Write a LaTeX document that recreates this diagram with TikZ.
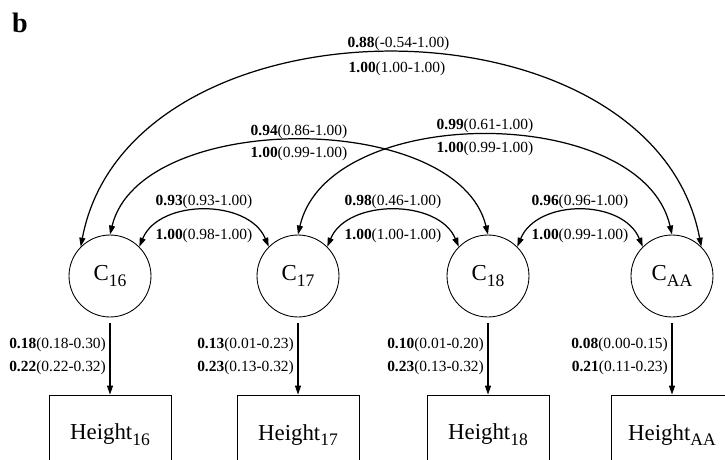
\documentclass[tikz,border=0pt]{standalone}
\usepackage{fontspec}
\setmainfont{Liberation Serif}
\usetikzlibrary{arrows.meta}

\newcommand{\lowsub}[1]{\raisebox{-0.55ex}{\fontsize{10}{10}\selectfont #1}}

\tikzset{
  latent/.style={circle, draw, line width=0.5pt, minimum size=1.64cm, inner sep=0pt,
    font=\fontsize{13}{14}\selectfont},
  observed/.style={rectangle, draw, line width=0.5pt, minimum width=2.44cm,
    minimum height=1.6cm, inner sep=0pt, font=\fontsize{13}{14}\selectfont},
  cov/.style={{Triangle[length=1.8mm,width=1.2mm]}-{Triangle[length=1.8mm,width=1.2mm]},
    line width=0.7pt},
  load/.style={-{Triangle[length=1.8mm,width=1.2mm]}, line width=0.7pt, shorten <=1.2mm},
  est/.style={font=\fontsize{8.8}{13}\selectfont, inner sep=1pt}
}

\begin{document}
\begin{tikzpicture}[x=0.02cm, y=-0.02cm]
\path[use as bounding box, clip] (0,0) rectangle (725,460);

%\draw[gray,very thin, step=50, opacity=0.5] (0,0) grid (725,460);

\node[font=\bfseries\fontsize{16}{16}\selectfont] (panel) at (20,23) {b};

% latent factors
\node[latent] (c16) at (110,276) {C\lowsub{16}};
\node[latent] (c17) at (298,276) {C\lowsub{17}};
\node[latent] (c18) at (488,276) {C\lowsub{18}};
\node[latent] (caa) at (672,276) {C\lowsub{AA}};

% observed heights
\node[observed] (h16) at (110,435) {Height\lowsub{16}};
\node[observed] (h17) at (298,435) {Height\lowsub{17}};
\node[observed] (h18) at (488,435) {Height\lowsub{18}};
\node[observed] (haa) at (672,435) {Height\lowsub{AA}};

% loadings
\draw[load] (c16) -- (h16) node[midway, left=1pt, est, align=right]
  {\textbf{0.18}(0.18-0.30)\\\textbf{0.22}(0.22-0.32)};
\draw[load] (c17) -- (h17) node[midway, left=1pt, est, align=right]
  {\textbf{0.13}(0.01-0.23)\\\textbf{0.23}(0.13-0.32)};
\draw[load] (c18) -- (h18) node[midway, left=1pt, est, align=right]
  {\textbf{0.10}(0.01-0.20)\\\textbf{0.23}(0.13-0.32)};
\draw[load] (caa) -- (haa) node[midway, left=1pt, est, align=right]
  {\textbf{0.08}(0.00-0.15)\\\textbf{0.21}(0.11-0.23)};

% correlations, neighbours
\draw[cov] (c16.45) .. controls +(20,-48) and +(-20,-48) .. (c17.135)
  node[pos=0.5, above, est] {\textbf{0.93}(0.93-1.00)}
  node[pos=0.5, below=0.32cm, est] {\textbf{1.00}(0.98-1.00)};
\draw[cov] (c17.45) .. controls +(20,-48) and +(-20,-48) .. (c18.135)
  node[pos=0.5, above, est] {\textbf{0.98}(0.46-1.00)}
  node[pos=0.5, below=0.32cm, est] {\textbf{1.00}(1.00-1.00)};
\draw[cov] (c18.45) .. controls +(20,-48) and +(-20,-48) .. (caa.135)
  node[pos=0.5, above, est] {\textbf{0.96}(0.96-1.00)}
  node[pos=0.5, below=0.32cm, est] {\textbf{1.00}(0.99-1.00)};

% correlations, two apart
\draw[cov] (c16.north) .. controls +(30,-125) and +(-30,-125) .. (c18.north)
  node[pos=0.5, above, est] {\textbf{0.94}(0.86-1.00)}
  node[pos=0.5, below=2pt, est] {\textbf{1.00}(0.99-1.00)};
\draw[cov] (c17.north) .. controls +(30,-132) and +(-30,-132) .. (caa.north)
  node[pos=0.5, above, est] {\textbf{0.99}(0.61-1.00)}
  node[pos=0.5, below=2pt, est] {\textbf{1.00}(0.99-1.00)};

% correlation, three apart
\draw[cov] (c16.135) .. controls +(49,-258) and +(-49,-258) .. (caa.45)
  node[pos=0.5, above, est, xshift=0.15cm] {\textbf{0.88}(-0.54-1.00)}
  node[pos=0.5, below=0.12cm, est, xshift=0.12cm] {\textbf{1.00}(1.00-1.00)};

\end{tikzpicture}
\end{document}
